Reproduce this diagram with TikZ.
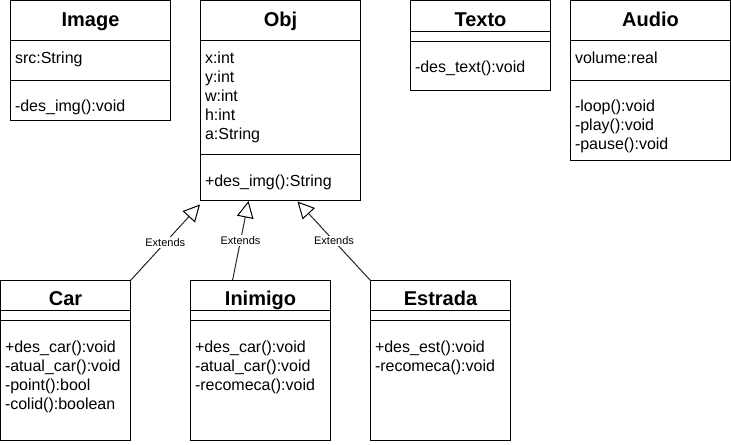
\documentclass[tikz,border=0pt]{standalone}
\usepackage{fontspec}
\setmainfont{Liberation Sans}
\usetikzlibrary{arrows.meta}
\begin{document}
\begin{tikzpicture}[x=0.75pt,y=-0.75pt,line width=0.75pt,
  cls/.style={draw=black,fill=white,anchor=north west,inner sep=0pt,outer sep=0pt},
  title/.style={anchor=base,font=\fontsize{15}{18}\selectfont\bfseries,inner sep=0pt},
  member/.style={anchor=base west,font=\fontsize{12}{14}\selectfont,inner sep=0pt},
  ext/.style={draw=black!85,-{Triangle[open,length=12.5pt,width=12.5pt,color=black,fill=white]}},
  lbl/.style={fill=white,font=\fontsize{8.25}{10}\selectfont,inner sep=1pt}]
\useasboundingbox (0,0) rectangle (731,444);

% ---- Image
\node[cls,minimum width=120pt,minimum height=90pt] (image) at (10.5,0.5) {};
\draw (10.5,40.5) -- (170.5,40.5);
\draw (10.5,80.5) -- (170.5,80.5);
\node[title] (imageT) at (90.5,26) {Image};
\node[member] (imageA1) at (14.5,63) {src:String};
\node[member] (imageM1) at (14.5,111.5) {-des\_img():void};

% ---- Obj
\node[cls,minimum width=120pt,minimum height=150pt] (obj) at (200.5,0.5) {};
\draw (200.5,40.5) -- (360.5,40.5);
\draw (200.5,154.5) -- (360.5,154.5);
\node[title] (objT) at (280.5,26) {Obj};
\node[member] (objA1) at (204.5,63) {x:int};
\node[member] (objA2) at (204.5,82) {y:int};
\node[member] (objA3) at (204.5,101) {w:int};
\node[member] (objA4) at (204.5,120) {h:int};
\node[member] (objA5) at (204.5,139) {a:String};
\node[member] (objM1) at (204.5,186.5) {+des\_img():String};

% ---- Texto
\node[cls,minimum width=105pt,minimum height=67.5pt] (texto) at (410.5,0.5) {};
\draw (410.5,31.5) -- (550.5,31.5);
\draw (410.5,41.5) -- (550.5,41.5);
\node[title] (textoT) at (480.5,26) {Texto};
\node[member] (textoM1) at (414.5,72) {-des\_text():void};

% ---- Audio
\node[cls,minimum width=120pt,minimum height=120pt] (audio) at (570.5,0.5) {};
\draw (570.5,40.5) -- (730.5,40.5);
\draw (570.5,80.5) -- (730.5,80.5);
\node[title] (audioT) at (650.5,26) {Audio};
\node[member] (audioA1) at (574.5,63) {volume:real};
\node[member] (audioM1) at (574.5,111.5) {-loop():void};
\node[member] (audioM2) at (574.5,130.5) {-play():void};
\node[member] (audioM3) at (574.5,149.5) {-pause():void};

% ---- Car
\node[cls,minimum width=97.5pt,minimum height=120pt] (car) at (0.5,280.5) {};
\draw (0.5,310.5) -- (130.5,310.5);
\draw (0.5,320.5) -- (130.5,320.5);
\node[title] (carT) at (65.5,305.5) {Car};
\node[member] (carM1) at (4.5,352.5) {+des\_car():void};
\node[member] (carM2) at (4.5,371.5) {-atual\_car():void};
\node[member] (carM3) at (4.5,390.5) {-point():bool};
\node[member] (carM4) at (4.5,409.5) {-colid():boolean};

% ---- Inimigo
\node[cls,minimum width=105pt,minimum height=120pt] (inimigo) at (190.5,280.5) {};
\draw (190.5,310.5) -- (330.5,310.5);
\draw (190.5,320.5) -- (330.5,320.5);
\node[title] (inimigoT) at (260.5,305.5) {Inimigo};
\node[member] (inimigoM1) at (194.5,352.5) {+des\_car():void};
\node[member] (inimigoM2) at (194.5,371.5) {-atual\_car():void};
\node[member] (inimigoM3) at (194.5,390.5) {-recomeca():void};

% ---- Estrada
\node[cls,minimum width=105pt,minimum height=120pt] (estrada) at (370.5,280.5) {};
\draw (370.5,310.5) -- (510.5,310.5);
\draw (370.5,320.5) -- (510.5,320.5);
\node[title] (estradaT) at (440.5,305.5) {Estrada};
\node[member] (estradaM1) at (374.5,352.5) {+des\_est():void};
\node[member] (estradaM2) at (374.5,371.5) {-recomeca():void};

% ---- inheritance arrows
\coordinate (t1) at (200,204.5);
\coordinate (t2) at (248.5,201);
\coordinate (t3) at (297.5,201.5);
\coordinate (s2) at (232.5,280.5);
\draw[ext] (car.north east) -- node[lbl] (l1) {Extends} (t1);
\draw[ext] (s2) -- node[lbl] (l2) {Extends} (t2);
\draw[ext] (estrada.north west) -- node[lbl] (l3) {Extends} (t3);
\end{tikzpicture}
\end{document}
